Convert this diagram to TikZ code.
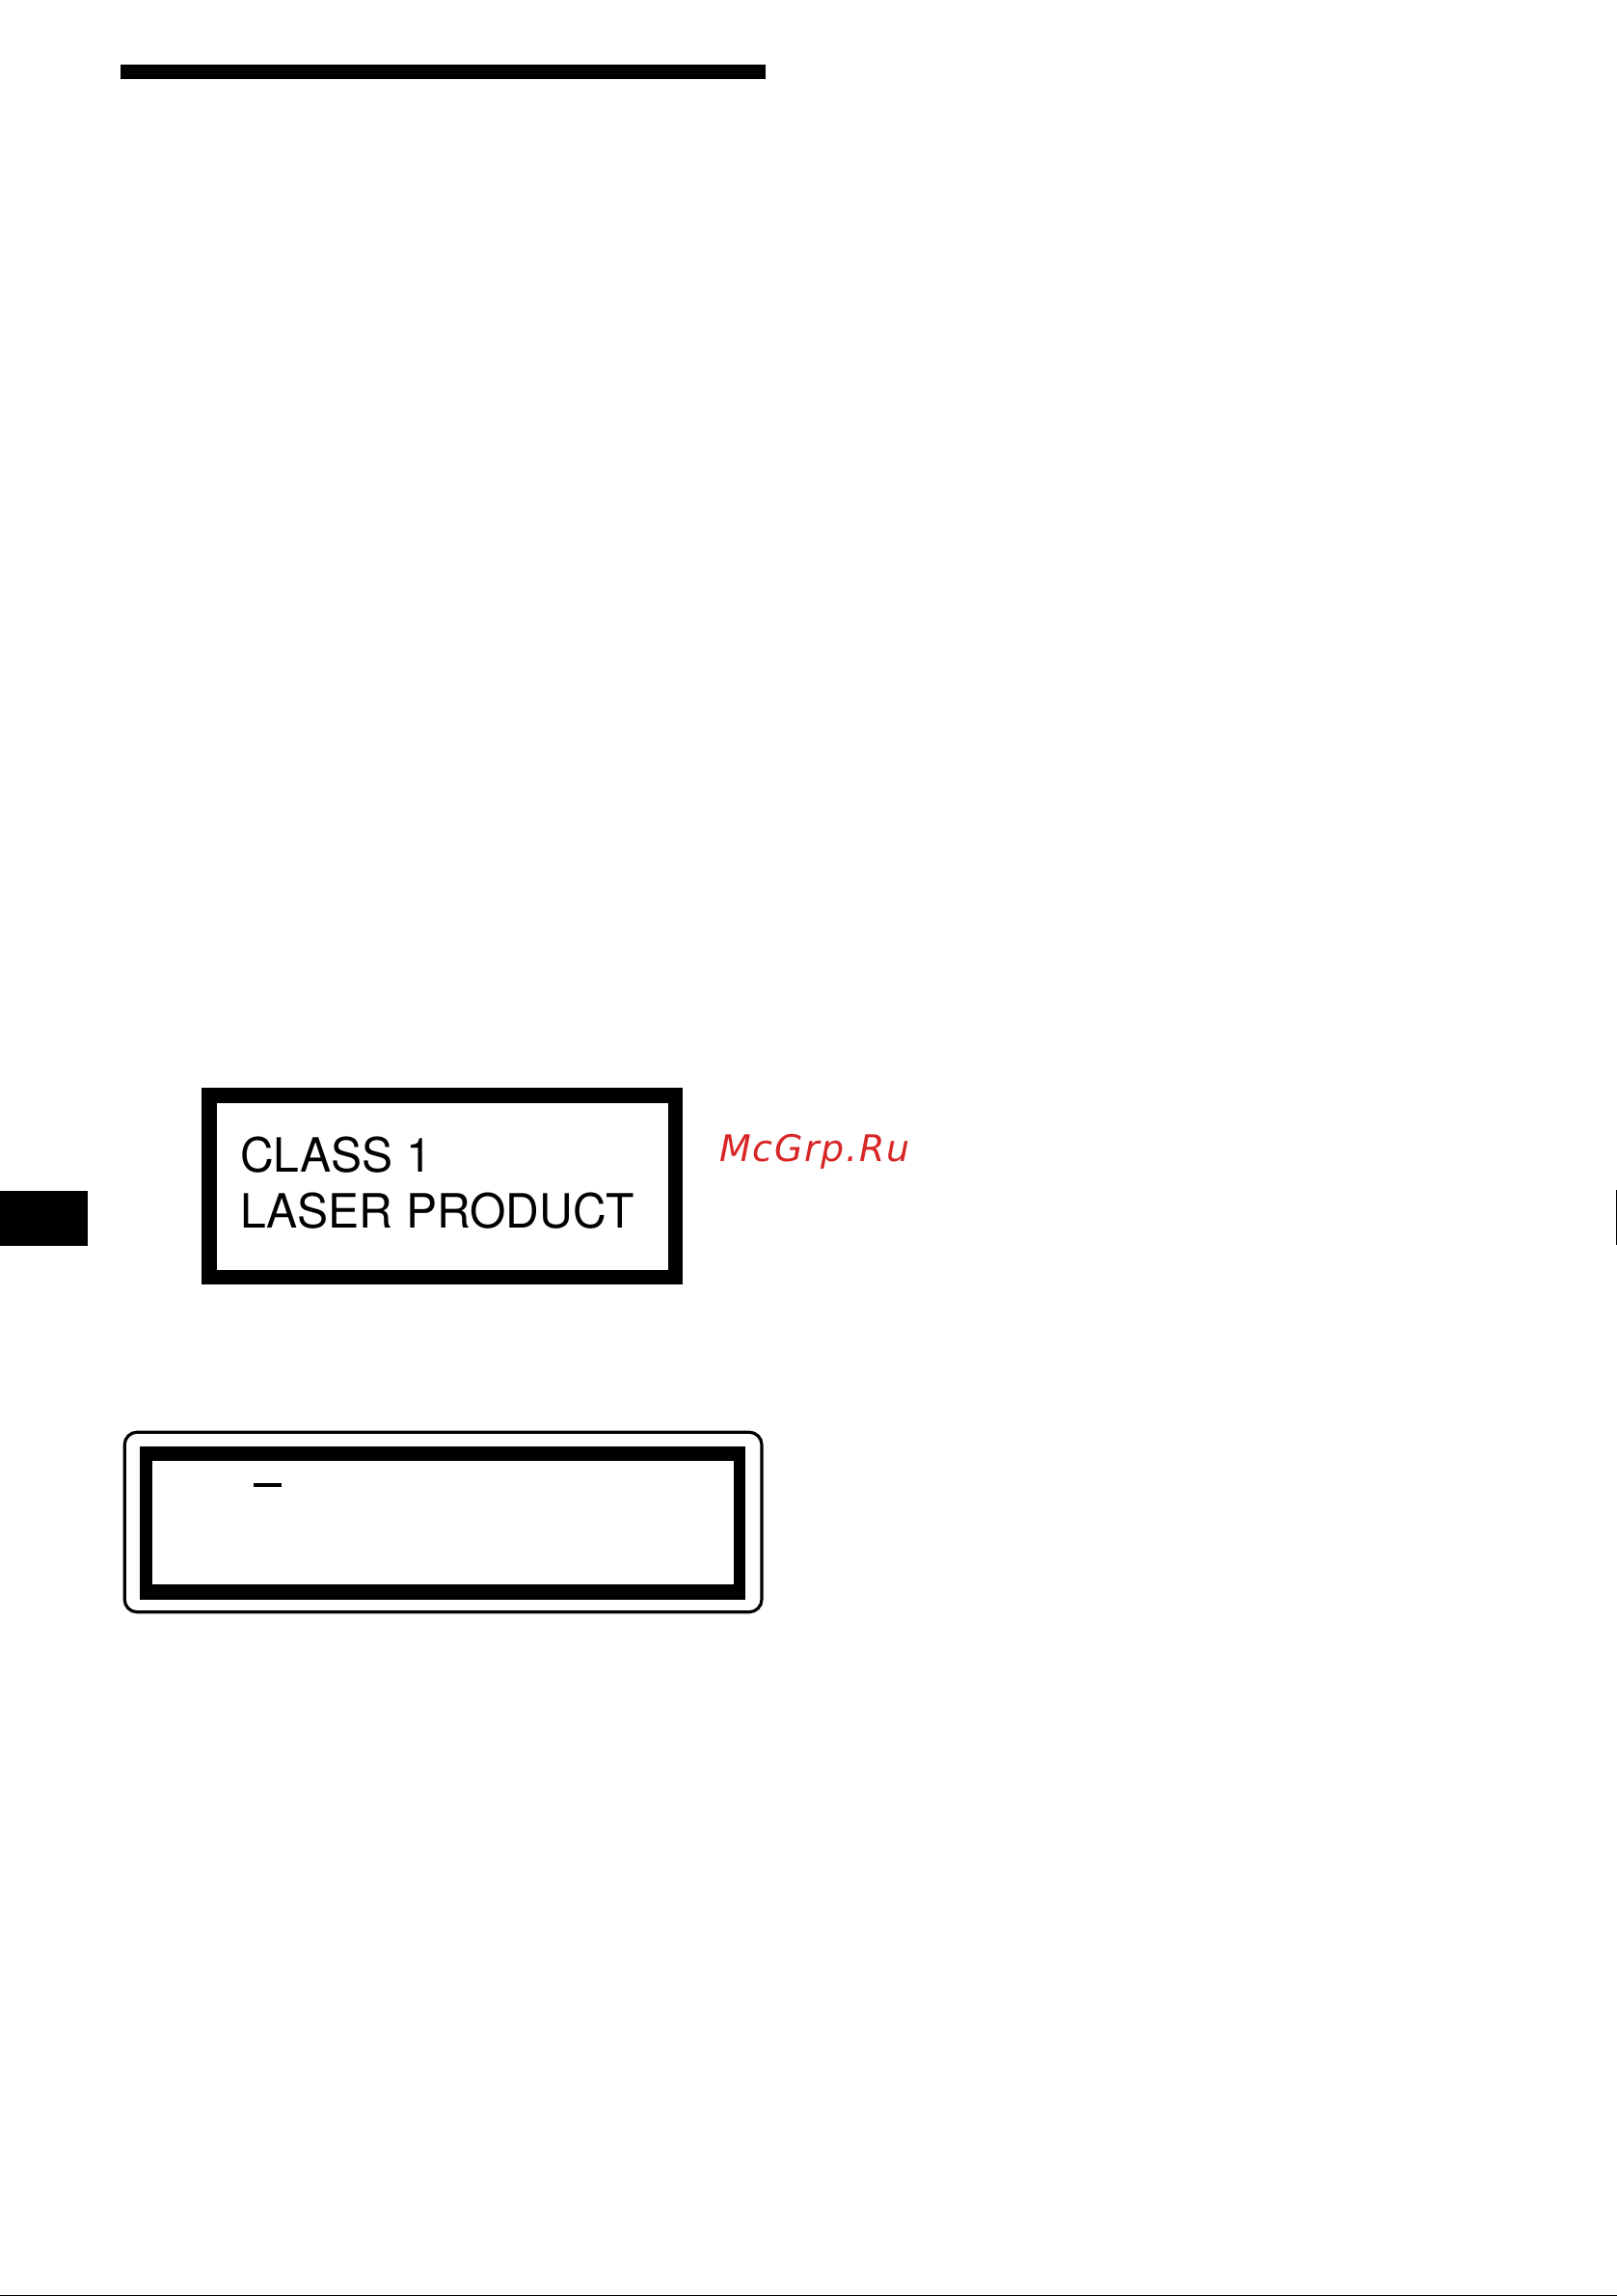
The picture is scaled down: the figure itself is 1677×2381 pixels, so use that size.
\documentclass[tikz,border=0pt]{standalone}
\usepackage{fontspec}
\setmainfont[FakeStretch=0.982]{TeX Gyre Heros}
\newfontfamily\markfont[LetterSpace=4.5]{DejaVu Sans}
\definecolor{markred}{HTML}{D82626}
\tikzset{
  x=1pt,y=-1pt,
  solidblock/.style={fill=black,draw=none},
  paper/.style={fill=white,draw=none},
  labeltext/.style={anchor=base west,inner sep=0pt,font=\fontsize{49}{49}\selectfont,text=black},
  marktext/.style={anchor=base west,inner sep=0pt,font=\markfont\itshape\fontsize{38}{38}\selectfont,text=markred}
}
\begin{document}
\begin{tikzpicture}
\useasboundingbox (0,0) rectangle (1677,2381);
\fill[white] (0,0) rectangle (1677,2381);
% top bar
\fill[solidblock] (124.7,67) rectangle (794,82);
% side tab and right edge mark
\fill[solidblock] (0,1235) rectangle (91,1292);
\fill[solidblock] (1675.5,1234) rectangle (1677,1291);
% class 1 label
\fill[solidblock] (209,1128) rectangle (708,1332);
\fill[paper] (225,1144) rectangle (693,1317);
\node[labeltext] (classone) at (249,1215) {CLASS 1};
\node[labeltext] (laser) at (249,1273) {LASER PRODUCT};
\node[marktext] (mark) at (746,1204.5) {McGrp.Ru};
% caution label
\draw[line width=3.2pt,rounded corners=13pt,black] (129.2,1485.2) rectangle (790,1671.7);
\fill[solidblock] (145,1500) rectangle (773,1658.5);
\fill[paper] (158,1515) rectangle (761,1642.5);
\fill[solidblock] (263,1538) rectangle (292,1542);
% bottom edge
\fill[solidblock] (0,2379.5) rectangle (1677,2381);
\end{tikzpicture}
\end{document}
